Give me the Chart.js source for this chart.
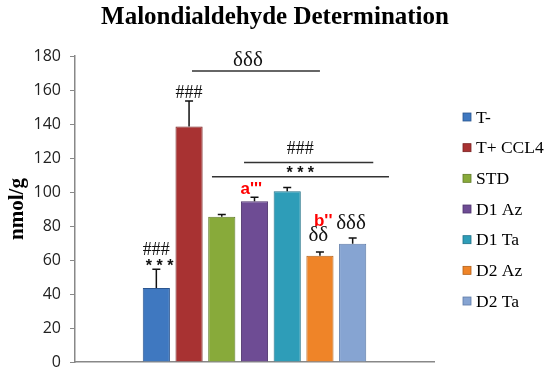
<!DOCTYPE html>
<html><head><meta charset="utf-8">
<script src="https://cdn.jsdelivr.net/npm/chart.js@4/dist/chart.umd.min.js"></script>
<style>html,body{margin:0;padding:0;background:#fff}#wrap{width:550px;height:372px}</style>
</head><body><div id="wrap"><canvas id="c" width="550" height="372"></canvas></div>
<script>
// ---- data ----
const categories = [''];
const groups = ['T-', 'T+ CCL4', 'STD', 'D1 Az', 'D1 Ta', 'D2 Az', 'D2 Ta'];
const means = [43.5, 138.5, 85.5, 94.5, 100.5, 62.5, 69.5];
const sems = [11, 15, 1.2, 2.4, 2.2, 2.2, 3.5];
const yTicks = [0, 20, 40, 60, 80, 100, 120, 140, 160, 180];
const colors = ['#3f78c0', '#a83232', '#88aa3a', '#6e4c94', '#2e9db8', '#ef8428', '#86a4d2'];
const edgeColors = ['#2a5590', '#7a2222', '#607a28', '#4e346c', '#1f7087', '#b36018', '#5f7ca8'];

// significance marks: text, bar index (fractional), value level
const marks = [
  {t: '###', b: 0, v: 65.5, f: 'serif'},
  {t: '* * *', b: 0.1, v: 56, f: 'sans'},
  {t: '###', b: 1, v: 158, f: 'serif'},
  {t: 'δδδ', b: 2.8, v: 177.5, f: 'delta'},
  {t: '###', b: 4.4, v: 125, f: 'serif'},
  {t: '* * *', b: 4.4, v: 111, f: 'sans'},
  {t: "a'''", b: 2.9, v: 101.5, f: 'red'},
  {t: "b''", b: 5.1, v: 82.5, f: 'red'},
  {t: 'δδ', b: 4.95, v: 74.5, f: 'delta'},
  {t: 'δδδ', b: 5.95, v: 81.5, f: 'delta'}
];
// bracket lines: from bar idx, to bar idx, value level
const brackets = [
  {from: 1.09, to: 5.0, v: 171.2},
  {from: 2.68, to: 6.63, v: 117.3},
  {from: 1.70, to: 7.11, v: 109}
];

const datasets = groups.map((g, i) => ({
  label: g,
  data: [means[i]],
  backgroundColor: colors[i],
  borderColor: edgeColors[i],
  borderWidth: 1,
  barPercentage: 0.83,
  categoryPercentage: 0.638
}));

const overlay = {
  id: 'overlay',
  afterDatasetsDraw(chart) {
    const ctx = chart.ctx;
    const y = chart.scales.y;
    const metas = chart.data.datasets.map((d, i) => chart.getDatasetMeta(i).data[0]);
    const xs = metas.map(m => m.x);
    const step = xs[1] - xs[0];
    const xAt = b => xs[0] + b * step;
    ctx.save();
    ctx.strokeStyle = '#111';
    ctx.lineWidth = 1.5;
    metas.forEach((m, i) => {
      const top = y.getPixelForValue(means[i] + sems[i]);
      const base = y.getPixelForValue(means[i]);
      ctx.beginPath();
      ctx.moveTo(m.x, base); ctx.lineTo(m.x, top);
      ctx.moveTo(m.x - 4, top); ctx.lineTo(m.x + 4, top);
      ctx.stroke();
    });
    ctx.strokeStyle = '#333';
    ctx.lineWidth = 1.5;
    brackets.forEach(br => {
      const py = y.getPixelForValue(br.v);
      ctx.beginPath();
      ctx.moveTo(xAt(br.from), py); ctx.lineTo(xAt(br.to), py);
      ctx.stroke();
    });
    ctx.textAlign = 'center';
    ctx.textBaseline = 'middle';
    marks.forEach(mk => {
      if (mk.f === 'red') { ctx.font = 'bold 17px "Liberation Sans", Arial'; ctx.fillStyle = '#ff0000'; }
      else if (mk.f === 'sans') { ctx.font = 'bold 16px "Liberation Sans", Arial'; ctx.fillStyle = '#111'; }
      else if (mk.f === 'delta') { ctx.font = '21px "Liberation Serif", "Times New Roman"'; ctx.fillStyle = '#111'; }
      else { ctx.font = '18px "Liberation Serif", "Times New Roman"'; ctx.fillStyle = '#111'; }
      ctx.fillText(mk.t, xAt(mk.b), y.getPixelForValue(mk.v));
    });
    ctx.restore();
  },
  afterDraw(chart) {
    const ctx = chart.ctx;
    ctx.save();
    ctx.font = '17.5px "Liberation Serif", "Times New Roman"';
    ctx.textBaseline = 'middle';
    ctx.textAlign = 'left';
    chart.data.datasets.forEach((d, i) => {
      const cy = 117 + i * 30.67;
      ctx.fillStyle = d.backgroundColor;
      ctx.fillRect(463, cy - 4, 8, 8);
      ctx.strokeStyle = d.borderColor;
      ctx.lineWidth = 0.8;
      ctx.strokeRect(463, cy - 4, 8, 8);
      ctx.fillStyle = '#000';
      ctx.fillText(d.label, 476, cy + 1);
    });
    ctx.restore();
  }
};

new Chart(document.getElementById('c'), {
  type: 'bar',
  data: { labels: categories, datasets },
  plugins: [overlay],
  options: {
    responsive: false,
    animation: false,
    devicePixelRatio: 1,
    layout: { padding: { left: 0, right: 0, top: 0, bottom: 0 } },
    plugins: {
      legend: { display: false },
      tooltip: { enabled: false },
      title: {
        display: true,
        text: 'Malondialdehyde Determination',
        color: '#000',
        font: { family: '"Liberation Serif", "Times New Roman", serif', size: 25, weight: 'bold' },
        padding: { top: 3, bottom: 23 }
      }
    },
    scales: {
      x: {
        grid: { display: false },
        border: { display: true, color: '#888', width: 1.5 },
        ticks: { display: false },
        afterFit(s) { s.height = 0; }
      },
      y: {
        min: 0, max: 180,
        afterBuildTicks(s) { s.ticks = yTicks.map(v => ({ value: v })); },
        grid: { drawOnChartArea: false, drawTicks: true, tickLength: 5, color: '#888' },
        border: { display: true, color: '#888', width: 1.5 },
        ticks: {
          color: '#222', padding: 9,
          font: { family: '"Open Sans", "Liberation Sans", Arial', size: 16 }
        },
        title: {
          display: true, text: 'nmol/g', color: '#000',
          font: { family: '"Liberation Serif", "Times New Roman", serif', size: 21, weight: 'bold' },
          padding: { top: 5, bottom: 0 }
        },
        afterFit(s) { s.width = 75; s.paddingBottom = 10; s.paddingTop = 10; }
      },
      legendSpace: {
        type: 'linear', position: 'right', display: true,
        grid: { display: false }, border: { display: false },
        ticks: { display: false },
        afterFit(s) { s.width = 116; }
      }
    }
  }
});
</script></body></html>
